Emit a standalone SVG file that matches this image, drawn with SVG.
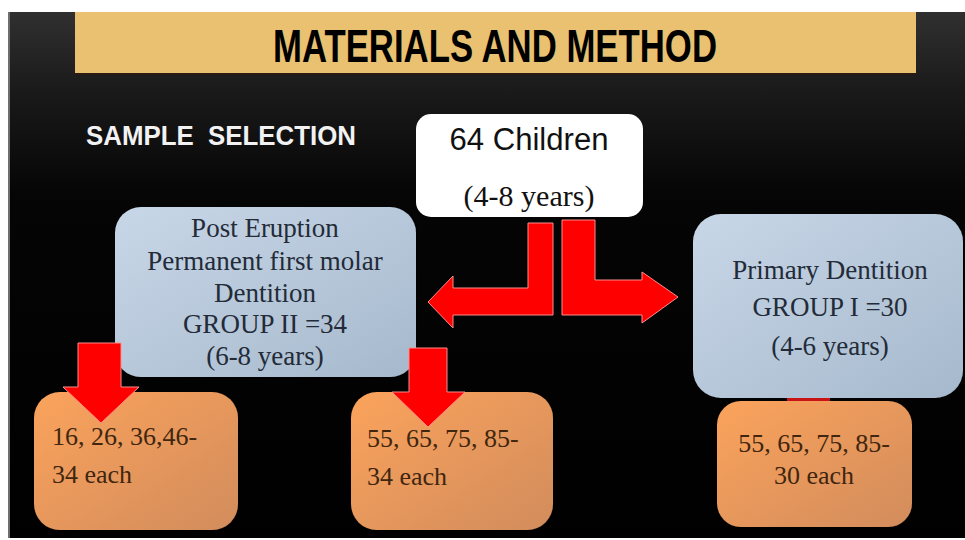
<svg xmlns="http://www.w3.org/2000/svg" width="965" height="540" viewBox="0 0 965 540">
<defs>
<linearGradient id="bg" x1="0" y1="0" x2="0" y2="1">
<stop offset="0" stop-color="#303030"/>
<stop offset="0.15" stop-color="#1a1a1a"/>
<stop offset="0.35" stop-color="#050505"/>
<stop offset="1" stop-color="#000000"/>
</linearGradient>
<linearGradient id="blue" x1="0" y1="0" x2="1" y2="1">
<stop offset="0" stop-color="#c8d7e8"/>
<stop offset="1" stop-color="#a6b9cc"/>
</linearGradient>
<linearGradient id="orange" x1="0" y1="0" x2="1" y2="1">
<stop offset="0" stop-color="#fba35b"/>
<stop offset="1" stop-color="#d28c5c"/>
</linearGradient>
<filter id="sh" x="-10%" y="-10%" width="130%" height="130%">
<feDropShadow dx="2" dy="2" stdDeviation="2" flood-color="#000" flood-opacity="0.6"/>
</filter>
</defs>
<style>
.serif{font-family:"Liberation Serif","Times New Roman",serif;}
.sans{font-family:"Liberation Sans",Arial,sans-serif;}
.bluetxt{fill:#232b38;font-size:27px;text-anchor:middle;}
.orgtxt{fill:#40260f;font-size:26px;}
.arrow{fill:#ff0000;stroke:#ff8c8c;stroke-width:1;}
</style>
<rect x="0" y="0" width="965" height="540" fill="#ffffff"/>
<rect x="8" y="12" width="957" height="526" fill="url(#bg)"/>
<rect x="8" y="12" width="2" height="526" fill="#6e6e6e"/>

<g id="title">
<rect x="75" y="14" width="841" height="61" fill="#2a1c10"/>
<rect x="75" y="12" width="841" height="61" fill="#e9c170"/>
<text x="495" y="62" class="sans" font-size="47" font-weight="bold" fill="#000" text-anchor="middle" textLength="444" lengthAdjust="spacingAndGlyphs">MATERIALS AND METHOD</text>
</g>

<g id="sample-selection">
<text x="86" y="145" class="sans" font-size="27" font-weight="bold" fill="#f2f2f2" textLength="270" lengthAdjust="spacingAndGlyphs" xml:space="preserve">SAMPLE  SELECTION</text>
</g>

<g id="children">
<rect x="416" y="114" width="227" height="103" rx="15" fill="#ffffff"/>
<text x="529" y="150" class="sans" font-size="31" fill="#111" text-anchor="middle" textLength="159" lengthAdjust="spacingAndGlyphs">64 Children</text>
<text x="529" y="206" class="serif" font-size="30" fill="#111" text-anchor="middle">(4-8 years)</text>
</g>

<g id="group2">
<rect x="115" y="207" width="301" height="170" rx="26" fill="url(#blue)" filter="url(#sh)"/>
<text class="serif bluetxt" x="265" y="237">Post Eruption</text>
<text class="serif bluetxt" x="265" y="270">Permanent first molar</text>
<text class="serif bluetxt" x="265" y="302">Dentition</text>
<text class="serif bluetxt" x="265" y="333">GROUP II =34</text>
<text class="serif bluetxt" x="265" y="365">(6-8 years)</text>
</g>

<g id="group1">
<rect x="693" y="214" width="270" height="184" rx="28" fill="url(#blue)" filter="url(#sh)"/>
<text class="serif bluetxt" x="830" y="279">Primary Dentition</text>
<text class="serif bluetxt" x="830" y="316">GROUP I =30</text>
<text class="serif bluetxt" x="830" y="355">(4-6 years)</text>
</g>

<g id="teeth-permanent">
<rect x="34" y="392" width="204" height="138" rx="26" fill="url(#orange)" filter="url(#sh)"/>
<text class="serif orgtxt" x="52" y="445">16, 26, 36,46-</text>
<text class="serif orgtxt" x="52" y="483">34 each</text>
</g>

<g id="teeth-primary-g2">
<rect x="351" y="392" width="202" height="138" rx="26" fill="url(#orange)" filter="url(#sh)"/>
<text class="serif orgtxt" x="367" y="447">55, 65, 75, 85-</text>
<text class="serif orgtxt" x="367" y="485">34 each</text>
</g>

<g id="teeth-primary-g1">
<rect x="717" y="401" width="195" height="126" rx="24" fill="url(#orange)" filter="url(#sh)"/>
<text class="serif orgtxt" x="814" y="452" text-anchor="middle">55, 65, 75, 85-</text>
<text class="serif orgtxt" x="814" y="484" text-anchor="middle">30 each</text>
</g>

<g id="connectors">
<polygon class="arrow" points="553,223 553,315 453,315 453,328 428,302 453,276 453,288 528,288 528,223"/>
<polygon class="arrow" points="562,220 595,220 595,280 642,280 642,272 678,297 642,323 642,315 562,315"/>
<polygon class="arrow" points="78,343 121,343 121,387 139,387 101,423 63,387 78,387"/>
<polygon class="arrow" points="409,348 447,348 447,392 465,392 428,427 392,392 409,392"/>
<rect x="787" y="398" width="43" height="3" fill="#c81414"/>
</g>
</svg>
